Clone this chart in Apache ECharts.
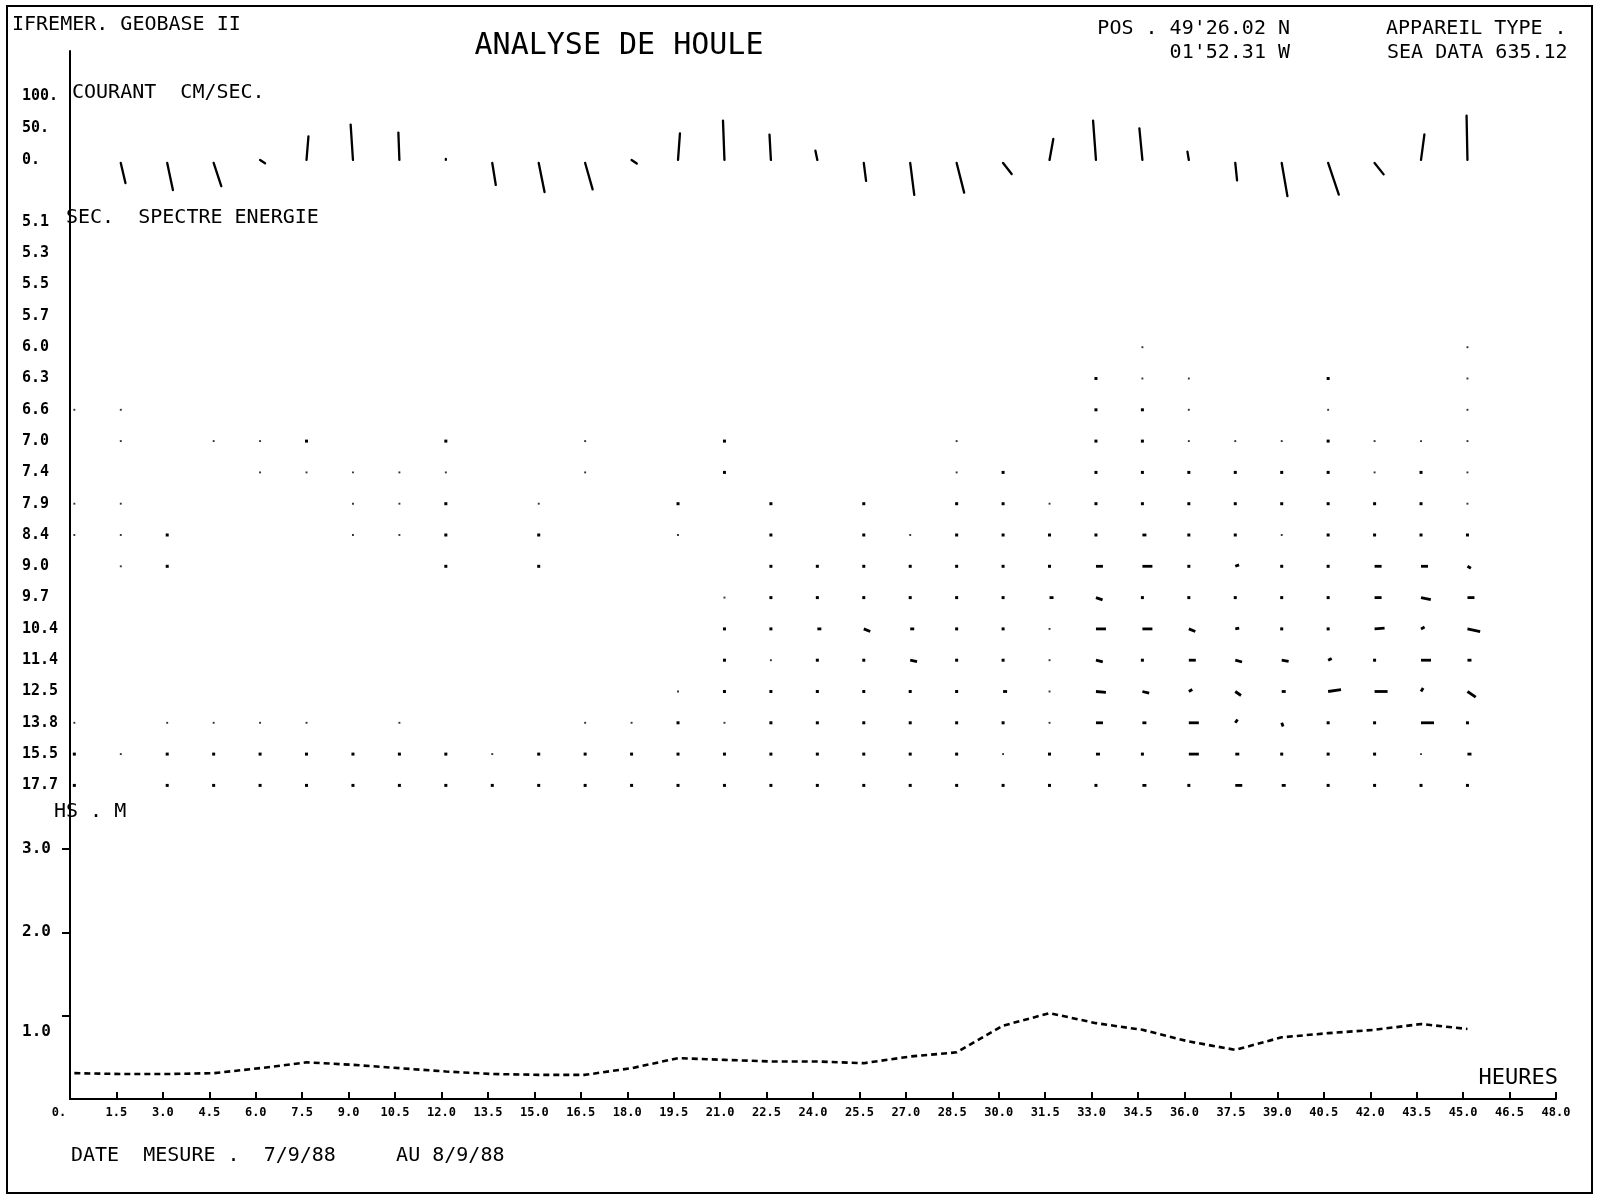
<!DOCTYPE html>
<html><head><meta charset="utf-8">
<script src="https://cdn.jsdelivr.net/npm/echarts@6/dist/echarts.min.js"></script>
<style>html,body{margin:0;padding:0;background:#fff}#c{width:1600px;height:1200px}</style>
</head><body><div id="c"></div>
<script>
// measurement times (hours)
const hours = [0.14,1.64,3.14,4.64,6.14,7.64,9.14,10.64,12.14,13.64,15.14,16.64,18.14,19.64,21.14,22.64,
  24.14,25.64,27.14,28.64,30.14,31.64,33.14,34.64,36.14,37.64,39.14,40.64,42.14,43.64,45.14];
// x tick labels every 1.5 h
const xTickStep = 1.5;
// current components (cm/s) from t = 1.64 h onward
const curHours = hours.slice(1);
const curU = [7.3,8.9,11.9,7.8,3.0,-3.6,-1.6,0,5.5,9.1,11.7,8.1,3.0,-2.3,-2.2,-3.0,3.6,6.3,11.7,13.4,5.9,-4.5,-4.7,-2.2,2.8,8.9,16.6,14.1,5.3,-1.4];
const curV = [-36,-47,-41,-5.2,36.9,55.2,42.7,1.5,-39,-50,-46,-5.6,41.6,61.4,39.5,14.5,-32.5,-54.5,-51,-22,32.8,61.4,49.4,13.0,-32,-56.5,-54,-22.5,40.0,69.2];
const curLabels = {100:'100.', 50:'50.', 0:'0.'};
// wave periods (s)
const periods = ['5.1','5.3','5.5','5.7','6.0','6.3','6.6','7.0','7.4','7.9','8.4','9.0','9.7','10.4','11.4','12.5','13.8','15.5','17.7'];
// energy class per period row and time column
const spectre = [
 [0,0,0,0,0,0,0,0,0,0, 0,0,0,0,0,0,0,0,0,0, 0,0,0,0,0,0,0,0,0,0, 0],
 [0,0,0,0,0,0,0,0,0,0, 0,0,0,0,0,0,0,0,0,0, 0,0,0,0,0,0,0,0,0,0, 0],
 [0,0,0,0,0,0,0,0,0,0, 0,0,0,0,0,0,0,0,0,0, 0,0,0,0,0,0,0,0,0,0, 0],
 [0,0,0,0,0,0,0,0,0,0, 0,0,0,0,0,0,0,0,0,0, 0,0,0,0,0,0,0,0,0,0, 0],
 [0,0,0,0,0,0,0,0,0,0, 0,0,0,0,0,0,0,0,0,0, 0,0,0,1,0,0,0,0,0,0, 1],
 [0,0,0,0,0,0,0,0,0,0, 0,0,0,0,0,0,0,0,0,0, 0,0,2,1,1,0,0,2,0,0, 1],
 [1,1,0,0,0,0,0,0,0,0, 0,0,0,0,0,0,0,0,0,0, 0,0,2,2,1,0,0,1,0,0, 1],
 [0,1,0,1,1,2,0,0,2,0, 0,1,0,0,2,0,0,0,0,1, 0,0,2,2,1,1,1,2,1,1, 1],
 [0,0,0,0,1,1,1,1,1,0, 0,1,0,0,2,0,0,0,0,1, 2,0,2,2,2,2,2,2,1,2, 1],
 [1,1,0,0,0,0,1,1,2,0, 1,0,0,2,0,2,0,2,0,2, 2,1,2,2,2,2,2,2,2,2, 1],
 [1,1,2,0,0,0,1,1,2,0, 2,0,0,1,0,2,0,2,1,2, 2,2,2,3,2,2,1,2,2,2, 2],
 [0,1,2,0,0,0,0,0,2,0, 2,0,0,0,0,2,2,2,2,2, 2,2,4,5,2,3,2,2,4,4, 3],
 [0,0,0,0,0,0,0,0,0,0, 0,0,0,0,1,2,2,2,2,2, 2,3,4,2,2,2,2,2,4,5, 4],
 [0,0,0,0,0,0,0,0,0,0, 0,0,0,0,2,2,3,4,3,2, 2,1,5,5,4,3,2,2,5,3, 6],
 [0,0,0,0,0,0,0,0,0,0, 0,0,0,0,2,1,2,2,4,2, 2,1,4,2,4,4,4,3,2,5, 3],
 [0,0,0,0,0,0,0,0,0,0, 0,0,0,1,2,2,2,2,2,2, 3,1,5,4,3,4,3,6,6,3, 5],
 [1,0,1,1,1,1,0,1,0,0, 0,1,1,2,1,2,2,2,2,2, 2,1,4,3,5,3,3,2,2,6, 2],
 [2,1,2,2,2,2,2,2,2,1, 2,2,2,2,2,2,2,2,2,2, 1,2,3,2,5,3,2,2,2,1, 3],
 [2,0,2,2,2,2,2,2,2,2, 2,2,2,2,2,2,2,2,2,2, 2,2,2,3,2,4,3,2,2,2, 2]
];
// direction of the energy sticks (degrees), [period, column, angle]
const spectreDir = [
 ['9.0',25,20],['9.0',30,-30],
 ['9.7',22,-19],['9.7',29,-12],
 ['10.4',17,-22],['10.4',24,-22],['10.4',25,10],['10.4',28,4],['10.4',29,27],['10.4',30,-12],
 ['11.4',18,-12],['11.4',22,-13],['11.4',25,-15],['11.4',26,-9],['11.4',27,27],
 ['12.5',22,-5],['12.5',23,-14],['12.5',24,30],['12.5',25,-35],['12.5',27,8],['12.5',29,58],['12.5',30,-34],
 ['13.8',25,55],['13.8',26,-70]
];
// significant wave height (m)
const hs = [0.31,0.30,0.30,0.31,0.37,0.44,0.41,0.37,0.33,0.30,0.29,0.29,0.37,0.49,0.47,0.45,
  0.45,0.43,0.51,0.56,0.88,1.03,0.91,0.83,0.69,0.59,0.74,0.79,0.83,0.90,0.84];
const hsLabels = {1:'1.0', 2:'2.0', 3:'3.0'};
const hsTicks = [1, 2, 3];

const MONO = '"DejaVu Sans Mono", "Liberation Mono", monospace';
const chart = echarts.init(document.getElementById('c'), null, {renderer:'canvas'});

const dirMap = {};
spectreDir.forEach(d => { dirMap[d[0] + '_' + d[1]] = d[2]; });
const specData = [];
spectre.forEach((row, r) => row.forEach((lv, k) => {
  if (lv > 0) specData.push([hours[k], r, lv, dirMap[periods[r] + '_' + k] || 0]);
}));
const curData = curHours.map((t, i) => [t, curU[i], curV[i]]);
const hsData = hours.map((t, i) => [t, hs[i]]);

const L = 70, R = 44;
const blk = '#000';
function xAx(i, show) {
  return {type:'value', gridIndex:i, min:0, max:48, interval:xTickStep, show:show,
    axisLine:{show:true, onZero:false, lineStyle:{color:blk, width:2}},
    axisTick:{show:true, inside:true, length:7, lineStyle:{color:blk, width:2}},
    splitLine:{show:false},
    axisLabel:{show:true, color:blk, margin:8, fontFamily:MONO, fontWeight:'bold', fontSize:12,
      formatter: v => v === 0 ? '{z|0.}' : v.toFixed(1),
      rich:{z:{fontFamily:MONO, fontWeight:'bold', fontSize:12, color:blk, padding:[0,22,0,0]}}}
  };
}
const labStyle = {color:blk, fontFamily:MONO, fontWeight:'bold', fontSize:15, align:'left', margin:48};

chart.setOption({
  animation:false,
  backgroundColor:'#fff',
  grid:[
    {left:L, right:R, top:51, height:141},
    {left:L, right:R, top:190.7, height:626},
    {left:L, right:R, top:807.3, height:291.7}
  ],
  xAxis:[xAx(0,false), xAx(1,false), xAx(2,true)],
  yAxis:[
    {type:'value', gridIndex:0, min:-50, max:170, interval:50,
     axisLine:{show:true, lineStyle:{color:blk, width:2}}, axisTick:{show:false}, splitLine:{show:false},
     axisLabel:Object.assign({}, labStyle, {formatter: v => curLabels[v] || ''})},
    {type:'value', gridIndex:1, min:-1, max:19, interval:1, inverse:true,
     axisLine:{show:true, lineStyle:{color:blk, width:2}}, axisTick:{show:false}, splitLine:{show:false},
     axisLabel:Object.assign({}, labStyle, {padding:[0,0,8,0], formatter: v => (v >= 0 && v < periods.length) ? periods[v] : ''})},
    {type:'value', gridIndex:2, min:0, max:3.5, interval:1,
     axisLine:{show:true, lineStyle:{color:blk, width:2}},
     axisTick:{show:true, length:8, customValues:hsTicks, lineStyle:{color:blk, width:2}}, splitLine:{show:false},
     axisLabel:Object.assign({}, labStyle, {fontSize:16,
       formatter: v => v === 1 ? '{lo|1.0}' : (hsLabels[v] || ''),
       rich:{lo:{fontFamily:MONO, fontWeight:'bold', fontSize:16, color:blk, padding:[32,0,0,0]}}})}
  ],
  series:[
    {type:'custom', xAxisIndex:0, yAxisIndex:0, clip:false, data:curData,
     renderItem:(params, api) => {
       const b = api.coord([api.value(0), 0]);
       const k = api.size([0, 1])[1];
       const u = api.value(1), v = api.value(2);
       const gap = v < -8 ? 3 : 0;
       return {type:'line', shape:{x1:b[0], y1:b[1] + gap, x2:b[0] + u * k, y2:b[1] - v * k},
         style:{stroke:blk, lineWidth:2.3, lineCap:'round'}};
     }},
    {type:'custom', xAxisIndex:1, yAxisIndex:1, clip:false, data:specData,
     renderItem:(params, api) => {
       const p = api.coord([api.value(0), api.value(1)]);
       const lv = api.value(2), a = api.value(3) * Math.PI / 180;
       if (lv <= 2) {
         const s = lv === 1 ? 1.9 : 3;
         return {type:'rect', shape:{x:p[0] - s / 2, y:p[1] - s / 2, width:s, height:s},
           style:{fill: lv === 1 ? '#333' : blk}};
       }
       const len = [0, 0, 0, 4, 7, 10, 13][lv];
       return {type:'line', shape:{x1:p[0], y1:p[1], x2:p[0] + len * Math.cos(a), y2:p[1] - len * Math.sin(a)},
         style:{stroke:blk, lineWidth:2.8}};
     }},
    {type:'line', xAxisIndex:2, yAxisIndex:2, data:hsData, showSymbol:false, smooth:false,
     lineStyle:{color:blk, width:2.6, type:[6,4]}}
  ],
  graphic:[
    {type:'rect', shape:{x:7, y:6, width:1585, height:1187}, style:{fill:'none', stroke:blk, lineWidth:2}},
    {type:'text', x:12, y:25, style:{text:'IFREMER. GEOBASE II', font:'20px ' + MONO, fill:blk, textVerticalAlign:'middle'}},
    {type:'text', x:619, y:46, style:{text:'ANALYSE DE HOULE', font:'30px ' + MONO, fill:blk, textAlign:'center', textVerticalAlign:'middle'}},
    {type:'text', x:1290, y:29, style:{text:"POS . 49'26.02 N", font:'20px ' + MONO, fill:blk, textAlign:'right', textVerticalAlign:'middle'}},
    {type:'text', x:1290, y:53, style:{text:"01'52.31 W", font:'20px ' + MONO, fill:blk, textAlign:'right', textVerticalAlign:'middle'}},
    {type:'text', x:1386, y:29, style:{text:'APPAREIL TYPE .', font:'20px ' + MONO, fill:blk, textVerticalAlign:'middle'}},
    {type:'text', x:1387, y:53, style:{text:'SEA DATA 635.12', font:'20px ' + MONO, fill:blk, textVerticalAlign:'middle'}},
    {type:'text', x:72, y:93, style:{text:'COURANT  CM/SEC.', font:'20px ' + MONO, fill:blk, textVerticalAlign:'middle'}},
    {type:'text', x:66, y:218, style:{text:'SEC.  SPECTRE ENERGIE', font:'20px ' + MONO, fill:blk, textVerticalAlign:'middle'}},
    {type:'text', x:54, y:812, style:{text:'HS . M', font:'20px ' + MONO, fill:blk, textVerticalAlign:'middle'}},
    {type:'text', x:1558, y:1078, style:{text:'HEURES', font:'22px ' + MONO, fill:blk, textAlign:'right', textVerticalAlign:'middle'}},
    {type:'text', x:71, y:1156, style:{text:'DATE  MESURE .  7/9/88     AU 8/9/88', font:'20px ' + MONO, fill:blk, textVerticalAlign:'middle'}}
  ]
});
</script></body></html>
